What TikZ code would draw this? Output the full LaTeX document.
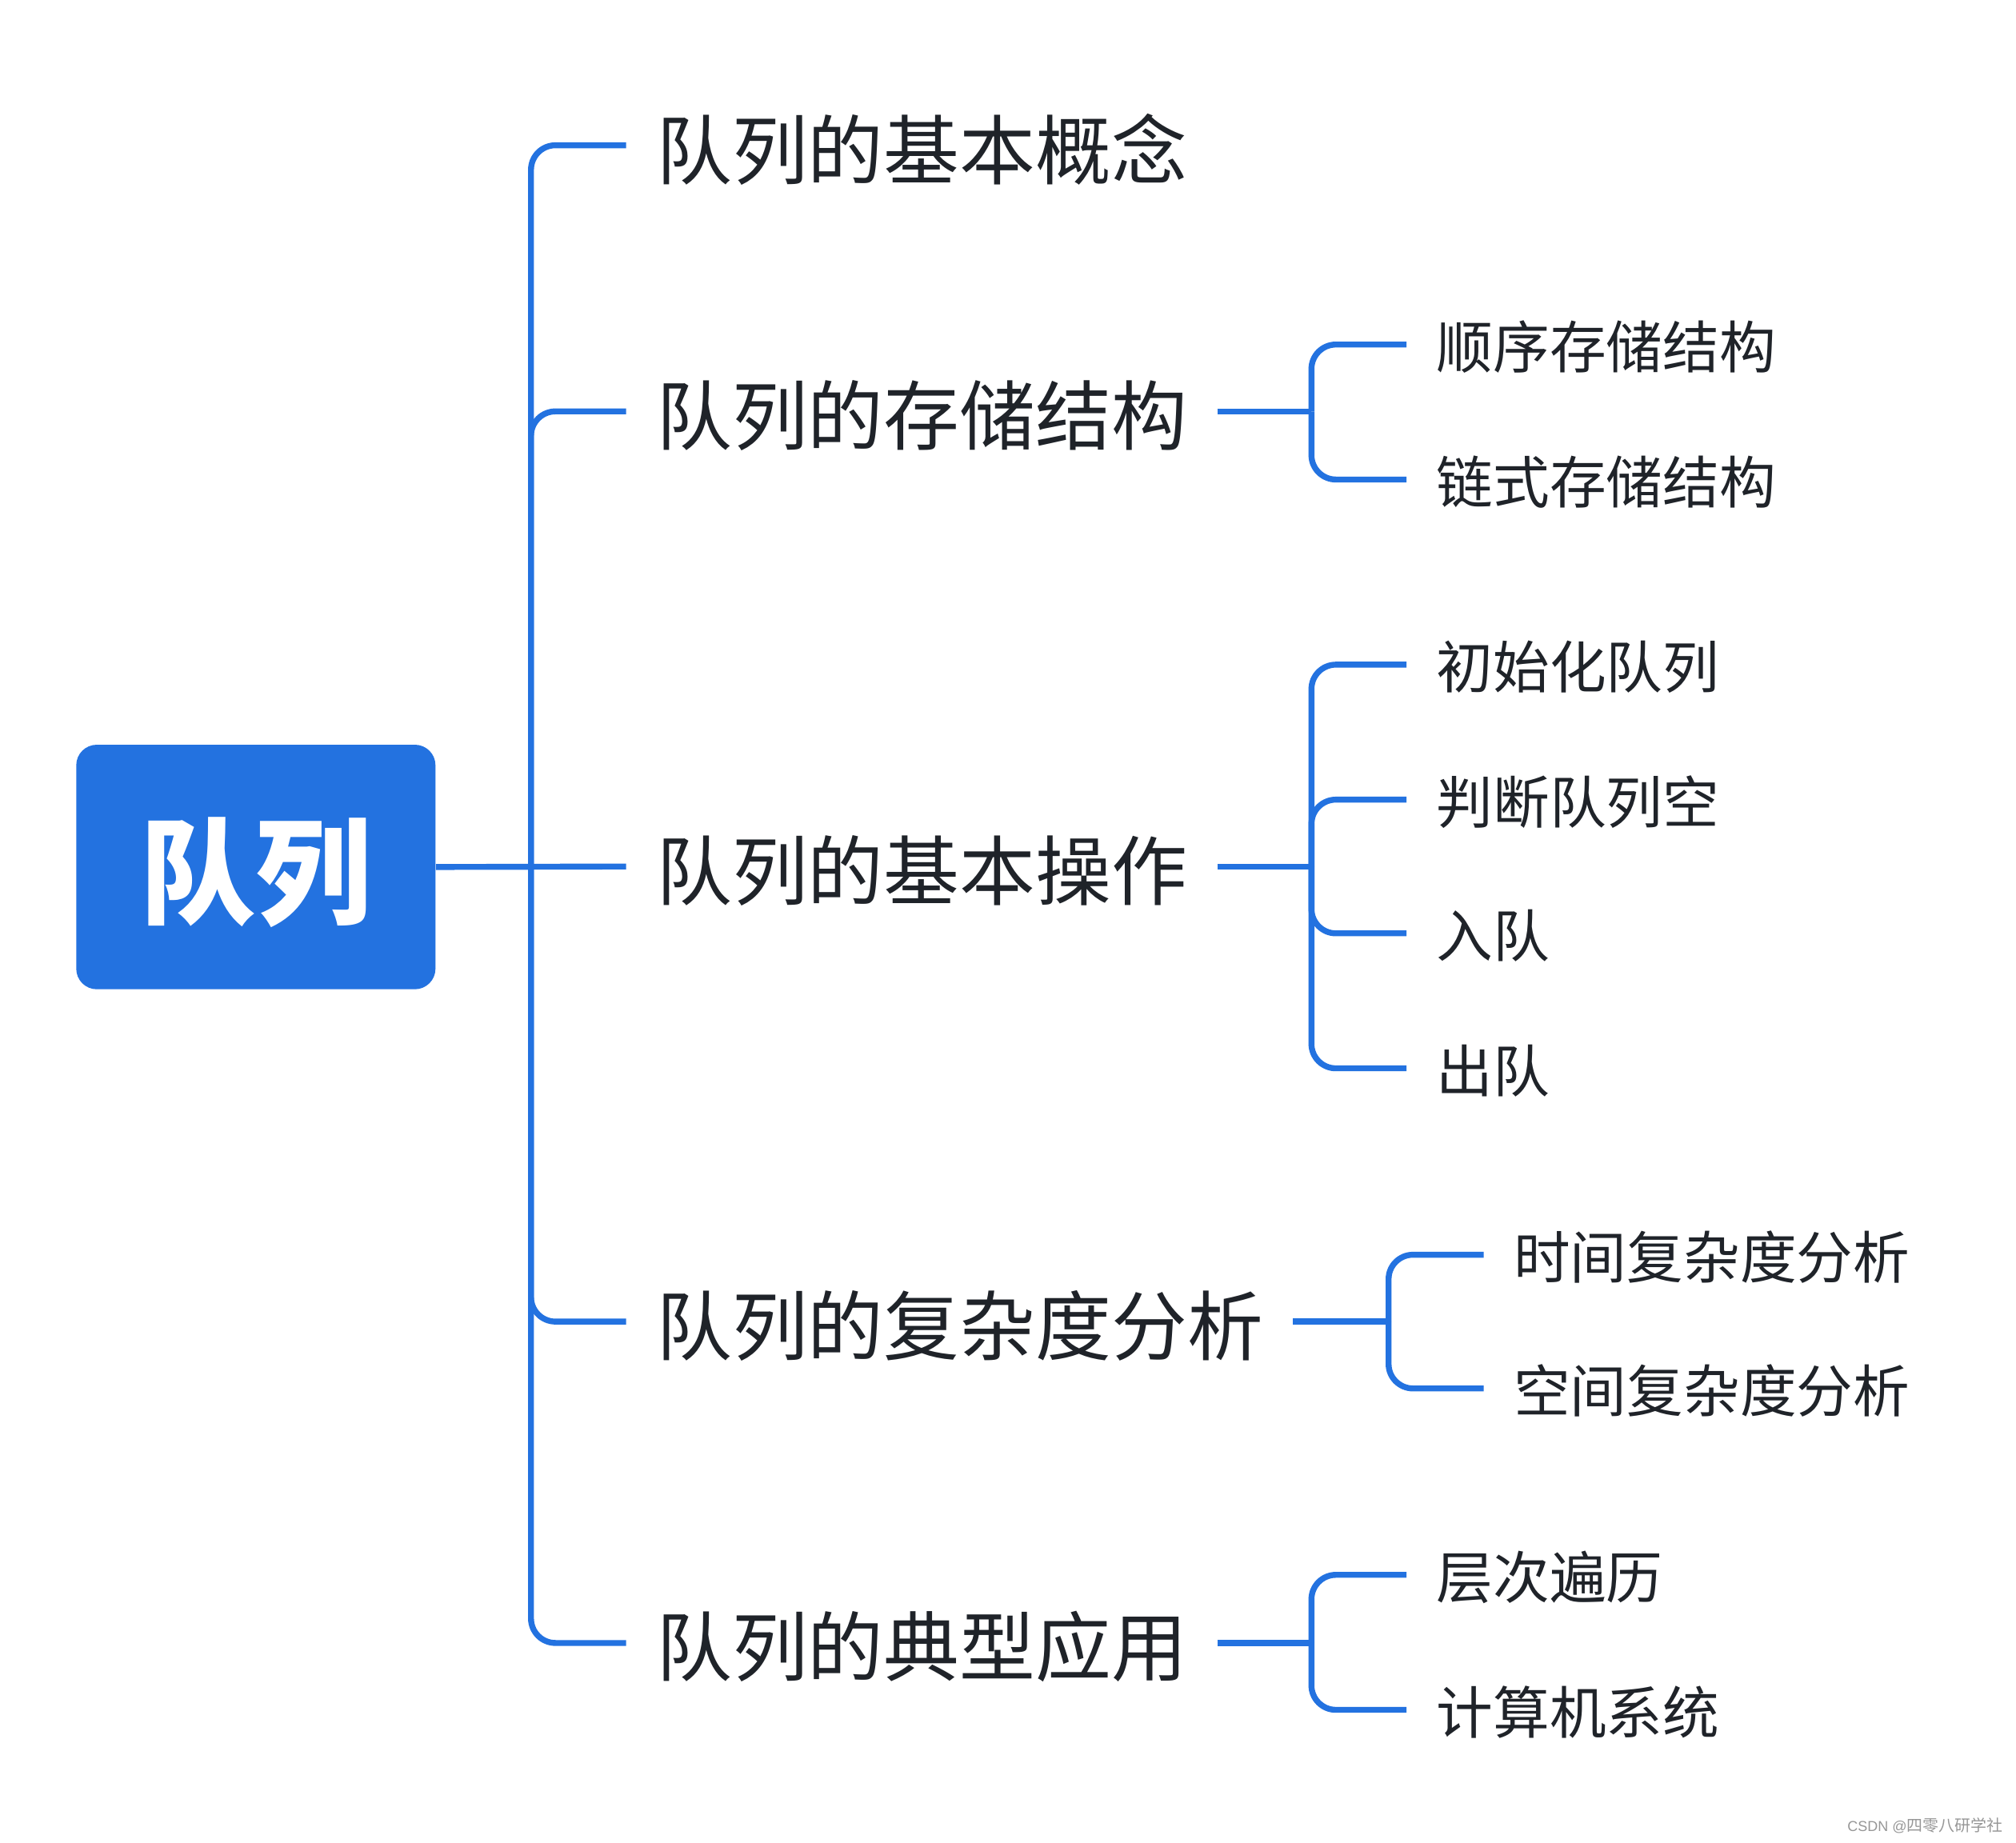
\documentclass[tikz,border=0pt]{standalone}
\usepackage{fontspec}
\setmainfont{Noto Sans CJK SC}
\newfontfamily\wmlatin{Liberation Sans}
\usetikzlibrary{calc}
\definecolor{mblue}{RGB}{35,114,224}
\definecolor{mtext}{RGB}{31,35,41}
\definecolor{wm}{RGB}{150,150,150}
\newcommand\lowertext[2]{\raisebox{-#1}[\height][\depth]{#2}}
\begin{document}
\begin{tikzpicture}[x=0.5pt,y=-0.5pt,
 conn/.style={draw=mblue,line width=2.3pt,rounded corners=9.5pt},
 lone/.style={anchor=west,inner xsep=11.5pt,inner ysep=0pt,text=mtext,font=\fontsize{29.5}{30}\selectfont},
 ltwo/.style={anchor=west,inner xsep=11.5pt,inner ysep=0pt,text=mtext,font=\fontsize{22}{23}\selectfont},
 rootbox/.style={fill=mblue,rounded corners=8pt,minimum width=139.7pt,minimum height=95.1pt,inner sep=0pt,text=white,font=\bfseries\fontsize{45}{46}\selectfont}]
\useasboundingbox (0,0) rectangle (1568,1433.6);
% root
\node[rootbox] (root) at (199,674.4) {\lowertext{2pt}{队列}};
\coordinate (t) at (413,674);
% level 1
\node[lone] (a) at (487,113) {\lowertext{1.5pt}{队列的基本概念}};
\node[lone] (b) at (487,320) {\lowertext{1.5pt}{队列的存储结构}};
\node[lone] (c) at (487,674) {\lowertext{1.5pt}{队列的基本操作}};
\node[lone] (d) at (487,1028) {\lowertext{1.5pt}{队列的复杂度分析}};
\node[lone] (e) at (487,1278) {\lowertext{1.5pt}{队列的典型应用}};
\draw[conn] (root.east) -- (c.west);
\foreach \n in {a,b,d,e} \draw[conn] (t) |- (\n.west);
% level 2
\node[ltwo] (b1) at (1094,268) {\lowertext{1pt}{顺序存储结构}};
\node[ltwo] (b2) at (1094,373) {\lowertext{1pt}{链式存储结构}};
\node[ltwo] (c1) at (1094,517) {\lowertext{1pt}{初始化队列}};
\node[ltwo] (c2) at (1094,622) {\lowertext{1pt}{判断队列空}};
\node[ltwo] (c3) at (1094,726) {\lowertext{1pt}{入队}};
\node[ltwo] (c4) at (1094,831) {\lowertext{1pt}{出队}};
\node[ltwo] (d1) at (1154,976) {\lowertext{1pt}{时间复杂度分析}};
\node[ltwo] (d2) at (1154,1080) {\lowertext{1pt}{空间复杂度分析}};
\node[ltwo] (e1) at (1094,1225) {\lowertext{1pt}{层次遍历}};
\node[ltwo] (e2) at (1094,1330) {\lowertext{1pt}{计算机系统}};
\coordinate (bj) at (1020,320);
\coordinate (cj) at (1020,674);
\coordinate (dj) at (1080,1028);
\coordinate (ej) at (1020,1278);
\draw[conn] (b.east) -- (bj);
\draw[conn] (c.east) -- (cj);
\draw[conn] (d.east) -- (dj);
\draw[conn] (e.east) -- (ej);
\foreach \n in {b1,b2} \draw[conn] (bj) |- (\n.west);
\foreach \n in {c1,c2,c3,c4} \draw[conn] (cj) |- (\n.west);
\foreach \n in {d1,d2} \draw[conn] (dj) |- (\n.west);
\foreach \n in {e1,e2} \draw[conn] (ej) |- (\n.west);
% watermark
\node[anchor=east,inner sep=0pt,text=wm] (wm) at (1558,1420) {{\wmlatin\fontsize{5.6}{7}\selectfont CSDN @}{\fontsize{6.2}{7}\selectfont 四零八研学社}};
\end{tikzpicture}
\end{document}
